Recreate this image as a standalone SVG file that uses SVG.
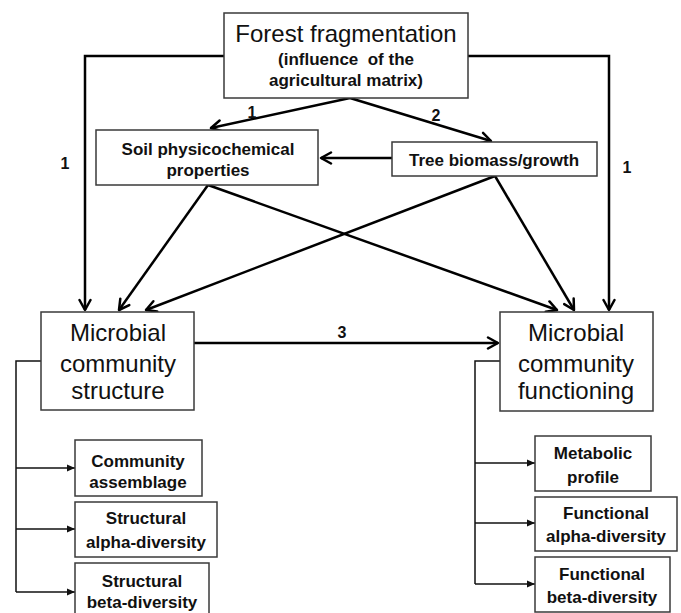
<svg xmlns="http://www.w3.org/2000/svg" width="681" height="613" viewBox="0 0 681 613">
<style>
.box{fill:#fff;stroke:#3a3a3a;stroke-width:1.5}
.big{font-family:"Liberation Sans",Arial,sans-serif;font-size:24px;fill:#111;text-anchor:middle}
.sm{font-family:"Liberation Sans",Arial,sans-serif;font-size:17px;font-weight:bold;fill:#111;text-anchor:middle;white-space:pre}
.lbl{font-family:"Liberation Sans",Arial,sans-serif;font-size:16px;font-weight:bold;fill:#111;text-anchor:middle}
.con{fill:none;stroke:#000;stroke-width:2.5;marker-end:url(#open)}
.br{fill:none;stroke:#111;stroke-width:1.5}
.brA{fill:none;stroke:#111;stroke-width:1.5;marker-end:url(#tri)}
</style>
<defs>
<marker id="open" viewBox="0 0 14 14" refX="12" refY="7" markerWidth="14" markerHeight="14" markerUnits="userSpaceOnUse" orient="auto">
<path d="M2,1.5 L12,7 L2,12.5" fill="none" stroke="#000" stroke-width="2.5" stroke-linejoin="round" stroke-linecap="round"/>
</marker>
<marker id="tri" viewBox="0 0 8 8" refX="8" refY="4" markerWidth="8" markerHeight="8" markerUnits="userSpaceOnUse" orient="auto">
<path d="M0,0.5 L8,4 L0,7.5 Z" fill="#111"/>
</marker>
</defs>
<rect width="681" height="613" fill="#fff"/>

<g id="connectors">
<polyline class="con" points="224,56 85,56 85,310"/>
<polyline class="con" points="468,56 609,56 609,310"/>
<line class="con" x1="350" y1="98" x2="211" y2="128"/>
<line class="con" x1="350" y1="98" x2="491" y2="141"/>
<line class="con" x1="392" y1="158" x2="321" y2="158"/>
<line class="con" x1="208" y1="185" x2="119" y2="310"/>
<line class="con" x1="208" y1="185" x2="557" y2="310"/>
<line class="con" x1="495" y1="176" x2="146" y2="310"/>
<line class="con" x1="495" y1="176" x2="574" y2="310"/>
<line class="con" x1="194" y1="343" x2="498" y2="343"/>
<polyline class="br" points="41,361 16,361 16,592"/>
<line class="brA" x1="16" y1="468" x2="75" y2="468"/>
<line class="brA" x1="16" y1="529" x2="75" y2="529"/>
<line class="brA" x1="16" y1="592" x2="75" y2="592"/>
<polyline class="br" points="500,361 475,361 475,584"/>
<line class="brA" x1="475" y1="463" x2="535" y2="463"/>
<line class="brA" x1="475" y1="523" x2="535" y2="523"/>
<line class="brA" x1="475" y1="584" x2="535" y2="584"/>
<text class="lbl" x="252" y="118">1</text>
<text class="lbl" x="436" y="121">2</text>
<text class="lbl" x="65" y="169">1</text>
<text class="lbl" x="627" y="173">1</text>
<text class="lbl" x="342" y="338">3</text>
</g>

<g id="forest">
<rect class="box" x="224" y="13" width="244" height="85"/>
<text class="big" x="346" y="42">Forest fragmentation</text>
<text class="sm" x="346" y="65">(influence  of the</text>
<text class="sm" x="346" y="86">agricultural matrix)</text>
</g>

<g id="soil">
<rect class="box" x="96" y="130" width="222" height="55"/>
<text class="sm" x="208" y="155">Soil physicochemical</text>
<text class="sm" x="208" y="176">properties</text>
</g>

<g id="tree">
<rect class="box" x="392" y="142" width="205" height="34"/>
<text class="sm" x="494" y="166">Tree biomass/growth</text>
</g>

<g id="structure">
<rect class="box" x="41" y="312" width="153" height="98"/>
<text class="big" x="118" y="341">Microbial</text>
<text class="big" x="118" y="372">community</text>
<text class="big" x="118" y="399">structure</text>
</g>

<g id="functioning">
<rect class="box" x="500" y="312" width="153" height="99"/>
<text class="big" x="576" y="341">Microbial</text>
<text class="big" x="576" y="372">community</text>
<text class="big" x="576" y="399">functioning</text>
</g>

<g id="assemblage">
<rect class="box" x="75" y="440" width="127" height="56"/>
<text class="sm" x="138" y="467">Community</text>
<text class="sm" x="138" y="488">assemblage</text>
</g>

<g id="struct-alpha">
<rect class="box" x="75" y="502" width="142" height="55"/>
<text class="sm" x="146" y="524">Structural</text>
<text class="sm" x="146" y="548">alpha-diversity</text>
</g>

<g id="struct-beta">
<rect class="box" x="75" y="563" width="134" height="52"/>
<text class="sm" x="142" y="587">Structural</text>
<text class="sm" x="142" y="608">beta-diversity</text>
</g>

<g id="metabolic">
<rect class="box" x="535" y="436" width="116" height="55"/>
<text class="sm" x="593" y="459">Metabolic</text>
<text class="sm" x="593" y="483">profile</text>
</g>

<g id="func-alpha">
<rect class="box" x="535" y="497" width="142" height="54"/>
<text class="sm" x="606" y="519">Functional</text>
<text class="sm" x="606" y="542">alpha-diversity</text>
</g>

<g id="func-beta">
<rect class="box" x="535" y="557" width="135" height="55"/>
<text class="sm" x="602" y="580">Functional</text>
<text class="sm" x="602" y="603">beta-diversity</text>
</g>
</svg>
